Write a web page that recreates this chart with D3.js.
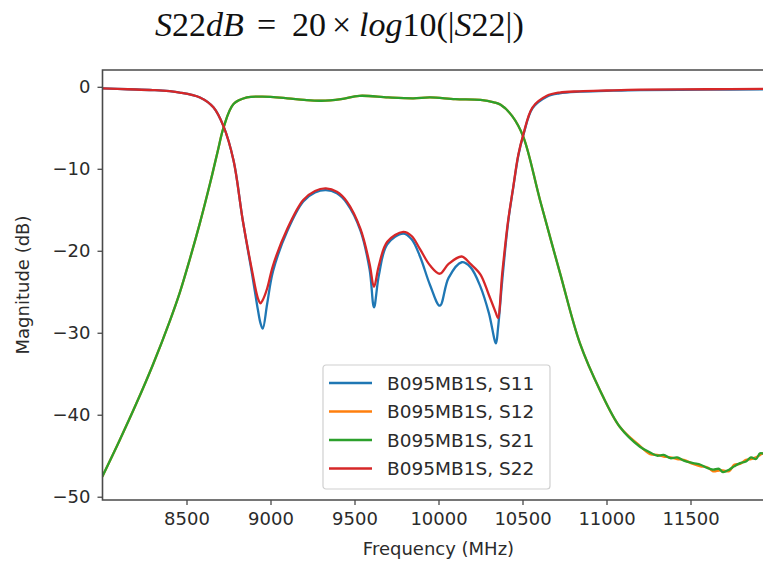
<!DOCTYPE html>
<html>
<head>
<meta charset="utf-8">
<script src="https://cdn.jsdelivr.net/npm/d3@7"></script>
<style>
  body { margin: 0; background: #fff; }
  svg { display: block; }
</style>
</head>
<body>
<svg id="chart" width="763" height="561"></svg>
<script>
// Frequency points (MHz) for the reflection traces S11 / S22
var freqRefl = [8000, 8150, 8300, 8460, 8580, 8660, 8720, 8780, 8835, 8890, 8925, 8940, 8954, 8980,
    9015, 9100, 9195, 9265, 9330, 9395, 9455, 9535, 9590, 9616, 9645, 9695, 9790, 9840, 9890, 9950,
    10008, 10060, 10138, 10190, 10250, 10300, 10342, 10354, 10380, 10414, 10445, 10475, 10505, 10560,
    10645, 10720, 10840, 11000, 11200, 11600, 11940];
var s11 = [-0.2, -0.3, -0.4, -0.7, -1.3, -2.5, -4.8, -9.0, -16.3, -22.8, -27.2, -28.8, -29.5, -26.5,
    -22.5, -17.6, -14.0, -12.9, -12.6, -13.0, -14.2, -17.5, -22.3, -26.9, -23.0, -19.2, -17.9, -18.6, -20.7, -24.2,
    -26.7, -23.3, -21.4, -22.0, -24.4, -27.6, -31.3, -29.5, -23.5, -16.6, -12.3, -8.4, -5.9, -2.6,
    -1.2, -0.8, -0.6, -0.5, -0.4, -0.35, -0.3];
var s22 = [-0.2, -0.3, -0.4, -0.7, -1.3, -2.5, -4.8, -9.0, -16.3, -22.4, -25.8, -26.4, -26.0, -24.6,
    -21.8, -17.3, -13.8, -12.7, -12.4, -12.8, -14.0, -17.3, -21.6, -24.4, -21.8, -18.9, -17.7, -18.2, -19.8, -21.8,
    -22.8, -21.6, -20.7, -21.6, -22.9, -25.4, -27.6, -28.2, -22.6, -16.4, -12.2, -8.3, -5.8, -2.5,
    -1.1, -0.7, -0.55, -0.45, -0.35, -0.3, -0.25];

// Frequency points (MHz) for the transmission traces S12 / S21
var freqTrans = [8000, 8100, 8200, 8300, 8400, 8460, 8520, 8580, 8640, 8690, 8720, 8780, 8860, 8950,
    9100, 9200, 9300, 9420, 9530, 9700, 9850, 9950, 10100, 10250, 10330, 10370, 10440, 10505, 10604,
    10723, 10842, 10961, 11080, 11199, 11260, 11301, 11340, 11380, 11420, 11460, 11515, 11560, 11600,
    11634, 11670, 11693, 11730, 11760, 11795, 11830, 11860, 11890, 11914, 11940];
var s21 = [-47.5, -43.2, -38.7, -33.9, -28.6, -25.1, -21.0, -16.6, -11.8, -7.5, -5.0, -2.1, -1.3, -1.2,
    -1.4, -1.6, -1.7, -1.5, -1.1, -1.3, -1.4, -1.3, -1.5, -1.6, -1.9, -2.2, -3.6, -6.1, -13.8,
    -22.7, -31.3, -37.0, -41.5, -43.9, -44.6, -45.0, -44.9, -45.3, -45.2, -45.6, -45.9, -46.1, -46.5,
    -46.7, -46.6, -47.0, -46.7, -46.3, -45.9, -45.7, -45.2, -45.4, -44.7, -44.8];
var s12 = [-47.5, -43.2, -38.7, -33.9, -28.6, -25.1, -21.0, -16.6, -11.8, -7.5, -5.0, -2.1, -1.3, -1.2,
    -1.4, -1.6, -1.7, -1.5, -1.1, -1.3, -1.4, -1.3, -1.5, -1.6, -1.9, -2.2, -3.6, -6.1, -13.8,
    -22.7, -31.3, -37.0, -41.5, -43.8, -44.8, -44.9, -45.1, -45.2, -45.4, -45.5, -46.0, -46.3, -46.4,
    -46.9, -46.8, -46.8, -46.9, -46.1, -46.0, -45.5, -45.4, -45.2, -44.9, -44.6];

var seriesNames = ["B095MB1S, S11", "B095MB1S, S12", "B095MB1S, S21", "B095MB1S, S22"];
var seriesColors = ["#1f77b4", "#ff7f0e", "#2ca02c", "#d62728"];
var xTicks = [8500, 9000, 9500, 10000, 10500, 11000, 11500];
var yTicks = [0, -10, -20, -30, -40, -50];

// Plot box in pixels
var box = { left: 102.5, right: 774.5, top: 70, bottom: 500 };

var svg = d3.select("#chart");

var x = d3.scaleLinear().domain([8000, 12000]).range([box.left, box.right]);
var y = d3.scaleLinear().domain([-50.4, 2.05]).range([box.bottom, box.top]);

var font = "'DejaVu Sans', sans-serif";
var textColor = "#2b2b2b";
var spineColor = "#4a4a4a";

// Clip the traces to the axes box
svg.append("clipPath").attr("id", "plotClip")
    .append("rect")
    .attr("x", box.left).attr("y", box.top)
    .attr("width", box.right - box.left).attr("height", box.bottom - box.top);

// Build the series table from the arrays
var series = [
    { name: seriesNames[0], color: seriesColors[0], f: freqRefl, v: s11 },
    { name: seriesNames[1], color: seriesColors[1], f: freqTrans, v: s12 },
    { name: seriesNames[2], color: seriesColors[2], f: freqTrans, v: s21 },
    { name: seriesNames[3], color: seriesColors[3], f: freqRefl, v: s22 }
];

var line = d3.line()
    .x(function (d) { return x(d[0]); })
    .y(function (d) { return y(d[1]); })
    .curve(d3.curveCatmullRom.alpha(0.5));

svg.append("g")
    .attr("clip-path", "url(#plotClip)")
    .selectAll("path")
    .data(series)
    .enter()
    .append("path")
    .attr("d", function (s) { return line(s.f.map(function (f, i) { return [f, s.v[i]]; })); })
    .attr("fill", "none")
    .attr("stroke", function (s) { return s.color; })
    .attr("stroke-width", 2.3)
    .attr("stroke-linejoin", "round")
    .attr("stroke-linecap", "round");

// Axes
var xAxis = svg.append("g")
    .attr("transform", "translate(0," + box.bottom + ")")
    .call(d3.axisBottom(x).tickValues(xTicks).tickSize(5).tickPadding(7).tickFormat(d3.format("d")));
var yAxis = svg.append("g")
    .attr("transform", "translate(" + box.left + ",0)")
    .call(d3.axisLeft(y).tickValues(yTicks).tickSize(5).tickPadding(7)
        .tickFormat(function (d) { return d < 0 ? "\u2212" + Math.abs(d) : d; }));

[xAxis, yAxis].forEach(function (a) {
    a.select(".domain").remove();
    a.selectAll(".tick line").attr("stroke", spineColor).attr("stroke-width", 1.3);
    a.selectAll(".tick text")
        .attr("fill", textColor)
        .style("font-family", font)
        .style("font-size", "18px");
});

// Spines: left, top and bottom (right one falls outside the picture)
svg.append("path")
    .attr("d", "M" + box.right + "," + box.top + "H" + box.left + "V" + box.bottom + "H" + box.right)
    .attr("fill", "none")
    .attr("stroke", spineColor)
    .attr("stroke-width", 1.6);

// Axis labels
svg.append("text")
    .attr("x", (box.left + box.right) / 2)
    .attr("y", 555)
    .attr("text-anchor", "middle")
    .attr("fill", textColor)
    .style("font-family", font)
    .style("font-size", "18px")
    .text("Frequency (MHz)");

svg.append("text")
    .attr("transform", "translate(29," + ((box.top + box.bottom) / 2) + ") rotate(-90)")
    .attr("text-anchor", "middle")
    .attr("fill", textColor)
    .style("font-family", font)
    .style("font-size", "18px")
    .text("Magnitude (dB)");

// Legend
var legend = svg.append("g").attr("transform", "translate(323,365)");
legend.append("rect")
    .attr("width", 227).attr("height", 124)
    .attr("rx", 3).attr("ry", 3)
    .attr("fill", "#fff").attr("fill-opacity", 0.85)
    .attr("stroke", "#d0d0d0").attr("stroke-width", 1.2);
var rows = legend.selectAll(".row")
    .data(series)
    .enter()
    .append("g")
    .attr("class", "row")
    .attr("transform", function (d, i) { return "translate(0," + (18 + i * 28.5) + ")"; });
rows.append("line")
    .attr("x1", 6).attr("x2", 49)
    .attr("stroke", function (d) { return d.color; })
    .attr("stroke-width", 2.3);
rows.append("text")
    .attr("x", 64)
    .attr("dy", "0.36em")
    .attr("fill", textColor)
    .style("font-family", font)
    .style("font-size", "18.5px")
    .text(function (d) { return d.name; });

// Equation heading above the chart, pieces placed like the equation editor spaces them
var titlePieces = [
    { x: 155, parts: [["S", 1], ["22", 0], ["dB", 1]] },
    { x: 257, parts: [["=", 0]] },
    { x: 292, parts: [["20", 0]] },
    { x: 332, parts: [["\u00d7", 0]] },
    { x: 359, parts: [["log", 1], ["10(|", 0], ["S", 1], ["22", 0], ["|)", 0]] }
];
titlePieces.forEach(function (p) {
    var t = svg.append("text")
        .attr("x", p.x)
        .attr("y", 36)
        .attr("fill", "#111")
        .style("font-family", "'Liberation Serif', serif")
        .style("font-size", "34px");
    p.parts.forEach(function (q) {
        t.append("tspan")
            .style("font-style", q[1] ? "italic" : "normal")
            .text(q[0]);
    });
});
</script>
</body>
</html>
